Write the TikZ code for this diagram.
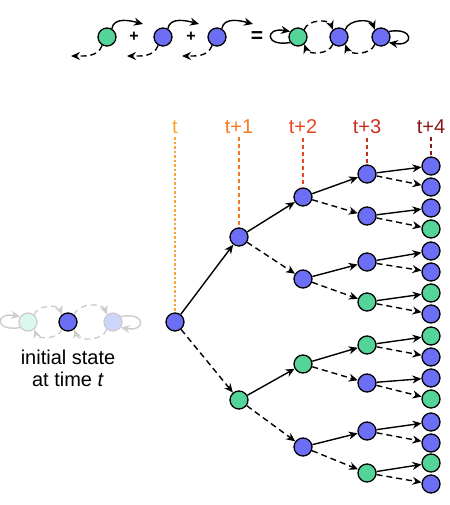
\documentclass[tikz,border=0pt]{standalone}
\usepackage{fontspec}
\setmainfont{Liberation Sans}
\usetikzlibrary{shapes.geometric, arrows.meta, positioning}
\definecolor{nodeblue}{RGB}{108, 110, 245}
\definecolor{nodegreen}{RGB}{84, 212, 152}
\definecolor{fadeblue}{RGB}{204, 214, 250}
\definecolor{fadegreen}{RGB}{218, 248, 236}
\definecolor{fadegray}{RGB}{205, 205, 205}
\definecolor{tcol0}{RGB}{248, 164, 48}
\definecolor{tcol1}{RGB}{245, 122, 34}
\definecolor{tcol2}{RGB}{234, 72, 32}
\definecolor{tcol3}{RGB}{200, 48, 30}
\definecolor{tcol4}{RGB}{140, 22, 22}
\tikzstyle{bnode} = [circle, minimum size=18pt, inner sep=0pt, line width=1.3pt, draw=black, fill=nodeblue]
\tikzstyle{gnode} = [circle, minimum size=18pt, inner sep=0pt, line width=1.3pt, draw=black, fill=nodegreen]
\tikzstyle{fbnode} = [circle, minimum size=18pt, inner sep=0pt, line width=1.3pt, draw=fadegray, fill=fadeblue]
\tikzstyle{fgnode} = [circle, minimum size=18pt, inner sep=0pt, line width=1.3pt, draw=fadegray, fill=fadegreen]
\tikzstyle{tlabel} = [font=\fontsize{20}{24}\selectfont]
\tikzstyle{capt} = [align=center, font=\fontsize{20}{22}\selectfont]
\tikzstyle{op} = [font=\bfseries\fontsize{16}{18}\selectfont]
\tikzstyle{guide} = [line width=1.3pt, dash pattern=on 4pt off 3pt]
\tikzstyle{arrow} = [line width=1.4pt, -{Stealth[length=9pt,width=8pt]}]
\tikzstyle{dashedarrow} = [arrow, dash pattern=on 6pt off 4pt]
\tikzstyle{fadedarrow} = [arrow, fadegray]
\tikzstyle{fadeddashedarrow} = [dashedarrow, fadegray]

\begin{document}
\begin{tikzpicture}[x=1pt, y=1pt, node distance=64pt]
\useasboundingbox (0,0) rectangle (449,-505);

% Equation on top
\node (g0) [gnode] at (107,-37) {};
\node (p1) [op, right of=g0, xshift=-37] {+};
\node (b0) [bnode, right of=g0, xshift=-8] {};
\node (p2) [op, right of=b0, xshift=-36] {+};
\node (b1) [bnode, right of=b0, xshift=-10] {};
\node (eq) [op, font=\bfseries\fontsize{21}{24}\selectfont, right of=b1, xshift=-24] {=};
\node (g1) [gnode, right of=eq, xshift=-23] {};
\node (b2) [bnode, right of=g1, xshift=-23] {};
\node (b3) [bnode, right of=b2, xshift=-22] {};
\coordinate (g0r) at (143,-24);
\coordinate (g0l) at (71,-56);
\coordinate (b0r) at (199,-24);
\coordinate (b0l) at (127,-56);
\coordinate (b1r) at (253,-24);
\coordinate (b1l) at (182,-56);

\draw [arrow] (g0.60) to[out=80,in=165] (g0r);
\draw [dashedarrow] (g0.240) to[out=250,in=0] (g0l);
\draw [arrow] (b0.60) to[out=80,in=165] (b0r);
\draw [dashedarrow] (b0.240) to[out=250,in=0] (b0l);
\draw [arrow] (b1.60) to[out=80,in=165] (b1r);
\draw [dashedarrow] (b1.240) to[out=250,in=0] (b1l);

\draw [arrow] (g1.215) to[out=190,in=170,looseness=6] (g1.145);
\draw [dashedarrow] (g1.50) to[out=70,in=110] (b2.130);
\draw [arrow] (b2.50) to[out=70,in=110] (b3.130);
\draw [dashedarrow] (b2.230) to[out=250,in=290] (g1.310);
\draw [dashedarrow] (b3.230) to[out=250,in=290] (b2.310);
\draw [arrow] (b3.35) to[out=10,in=-10,looseness=6] (b3.325);

% Initial state
\node (fg) [fgnode] at (28,-322) {};
\node (cb) [bnode, right of=fg, xshift=-24] {};
\node (fb) [fbnode, right of=cb, xshift=-19] {};
\node (caption) [capt, node distance=46pt, below of=cb] {initial state\\at time \textit{t}};

\draw [fadedarrow] (fg.215) to[out=190,in=170,looseness=6] (fg.145);
\draw [fadeddashedarrow] (fg.50) to[out=70,in=110] (cb.130);
\draw [fadeddashedarrow] (cb.50) to[out=70,in=110] (fb.130);
\draw [fadeddashedarrow] (cb.230) to[out=250,in=290] (fg.310);
\draw [fadeddashedarrow] (fb.230) to[out=250,in=290] (cb.310);
\draw [fadedarrow] (fb.35) to[out=10,in=-10,looseness=6] (fb.325);

% Tree
\node (root) [bnode] at (175,-322) {};
\node (s1a) [bnode, right of=root, yshift=85] {};
\node (s1b) [gnode, right of=root, yshift=-78] {};
\node (s2a) [bnode, right of=s1a, yshift=40] {};
\node (s2b) [bnode, right of=s1a, yshift=-42] {};
\node (s2c) [gnode, right of=s1b, yshift=36] {};
\node (s2d) [bnode, right of=s1b, yshift=-47] {};
\node (s3a) [bnode, right of=s2a, yshift=23] {};
\node (s3b) [bnode, right of=s2a, yshift=-19] {};
\node (s3c) [bnode, right of=s2b, yshift=17] {};
\node (s3d) [gnode, right of=s2b, yshift=-23] {};
\node (s3e) [gnode, right of=s2c, yshift=19] {};
\node (s3f) [bnode, right of=s2c, yshift=-19] {};
\node (s3g) [bnode, right of=s2d, yshift=16] {};
\node (s3h) [gnode, right of=s2d, yshift=-26] {};
\node (s4a) [bnode, right of=s3a, yshift=8] {};
\node (s4b) [bnode, right of=s3a, yshift=-13] {};
\node (s4c) [bnode, right of=s3b, yshift=8] {};
\node (s4d) [gnode, right of=s3b, yshift=-13] {};
\node (s4e) [bnode, right of=s3c, yshift=11] {};
\node (s4f) [bnode, right of=s3c, yshift=-10] {};
\node (s4g) [gnode, right of=s3d, yshift=9] {};
\node (s4h) [bnode, right of=s3d, yshift=-12] {};
\node (s4i) [gnode, right of=s3e, yshift=9] {};
\node (s4j) [bnode, right of=s3e, yshift=-12] {};
\node (s4k) [bnode, right of=s3f, yshift=5] {};
\node (s4l) [gnode, right of=s3f, yshift=-16] {};
\node (s4m) [bnode, right of=s3g, yshift=9] {};
\node (s4n) [bnode, right of=s3g, yshift=-12] {};
\node (s4o) [gnode, right of=s3h, yshift=10] {};
\node (s4p) [bnode, right of=s3h, yshift=-11] {};

% Time labels
\node (lt0) [tlabel, text=tcol0] at (175,-127) {t};
\node (lt1) [tlabel, text=tcol1, right of=lt0] {t+1};
\node (lt2) [tlabel, text=tcol2, right of=lt1] {t+2};
\node (lt3) [tlabel, text=tcol3, right of=lt2] {t+3};
\node (lt4) [tlabel, text=tcol4, right of=lt3] {t+4};

\draw [guide, tcol0, dash pattern=on 2.5pt off 2pt] (lt0) -- (root);
\draw [guide, tcol1] (lt1) -- (s1a);
\draw [guide, tcol2] (lt2) -- (s2a);
\draw [guide, tcol3] (lt3) -- (s3a);
\draw [guide, tcol4] (lt4) -- (s4a);

% Solid arrows to the upper child, dashed to the lower one
\draw [arrow] (root) -- (s1a);
\draw [dashedarrow] (root) -- (s1b);
\draw [arrow] (s1a) -- (s2a);
\draw [dashedarrow] (s1a) -- (s2b);
\draw [arrow] (s1b) -- (s2c);
\draw [dashedarrow] (s1b) -- (s2d);
\draw [arrow] (s2a) -- (s3a);
\draw [dashedarrow] (s2a) -- (s3b);
\draw [arrow] (s2b) -- (s3c);
\draw [dashedarrow] (s2b) -- (s3d);
\draw [arrow] (s2c) -- (s3e);
\draw [dashedarrow] (s2c) -- (s3f);
\draw [arrow] (s2d) -- (s3g);
\draw [dashedarrow] (s2d) -- (s3h);
\draw [arrow] (s3a) -- (s4a);
\draw [dashedarrow] (s3a) -- (s4b);
\draw [arrow] (s3b) -- (s4c);
\draw [dashedarrow] (s3b) -- (s4d);
\draw [arrow] (s3c) -- (s4e);
\draw [dashedarrow] (s3c) -- (s4f);
\draw [arrow] (s3d) -- (s4g);
\draw [dashedarrow] (s3d) -- (s4h);
\draw [arrow] (s3e) -- (s4i);
\draw [dashedarrow] (s3e) -- (s4j);
\draw [arrow] (s3f) -- (s4k);
\draw [dashedarrow] (s3f) -- (s4l);
\draw [arrow] (s3g) -- (s4m);
\draw [dashedarrow] (s3g) -- (s4n);
\draw [arrow] (s3h) -- (s4o);
\draw [dashedarrow] (s3h) -- (s4p);

\end{tikzpicture}
\end{document}
